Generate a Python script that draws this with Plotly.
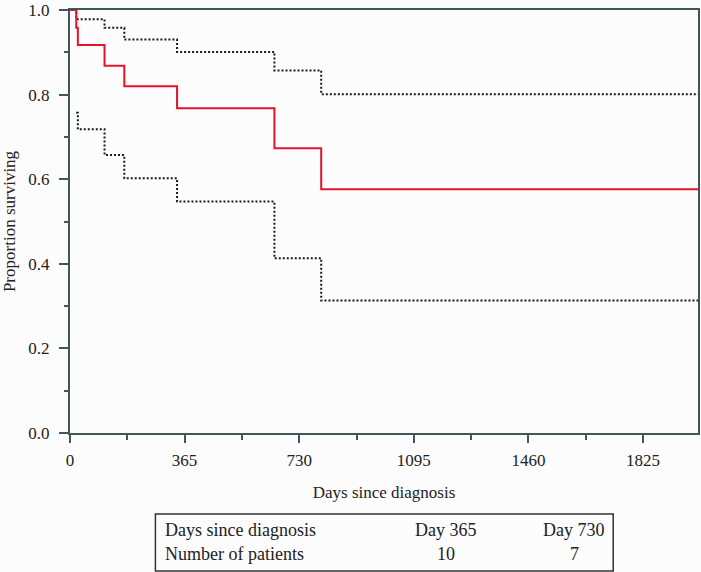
import plotly.graph_objects as go

# Kaplan-Meier estimate (days since diagnosis, proportion surviving)
km_days = [0, 20, 25, 110, 173, 341, 651, 800, 2000]
km_surv = [1.0, 0.958, 0.917, 0.868, 0.820, 0.768, 0.673, 0.576, 0.576]

upper_days = [0, 20, 110, 173, 341, 651, 800, 2000]
upper_surv = [1.0, 0.978, 0.958, 0.930, 0.901, 0.857, 0.801, 0.801]

lower_days = [20, 25, 110, 173, 341, 651, 800, 2000]
lower_surv = [0.757, 0.718, 0.657, 0.602, 0.547, 0.413, 0.313, 0.313]

x_ticks = [0, 365, 730, 1095, 1460, 1825]
y_ticks = [0.0, 0.2, 0.4, 0.6, 0.8, 1.0]

table_header = "Days since diagnosis"
table_row = "Number of patients"
table_days = ["Day 365", "Day 730"]
table_counts = ["10", "7"]

FONT = "Liberation Serif, Times New Roman, serif"
AXC = "#44555a"

fig = go.Figure()
fig.add_trace(go.Scatter(x=upper_days, y=upper_surv, mode="lines", line_shape="hv",
                         line=dict(color="#1a1a1a", width=2, dash="2px,2px"), showlegend=False,
                         hoverinfo="skip"))
fig.add_trace(go.Scatter(x=lower_days, y=lower_surv, mode="lines", line_shape="hv",
                         line=dict(color="#1a1a1a", width=2, dash="2px,2px"), showlegend=False,
                         hoverinfo="skip"))
fig.add_trace(go.Scatter(x=km_days, y=km_surv, mode="lines", line_shape="hv",
                         line=dict(color="#e3132c", width=2), showlegend=False,
                         hoverinfo="skip"))

fig.update_xaxes(range=[0, 2000], tickvals=x_ticks, ticktext=[str(v) for v in x_ticks],
                 ticks="outside", ticklen=8, tickwidth=1.5, tickcolor=AXC,
                 minor=dict(tickvals=[182.5, 547.5, 912.5, 1277.5, 1642.5], ticks="outside",
                            ticklen=5, tickwidth=1.5, tickcolor=AXC),
                 showline=True, linecolor=AXC, linewidth=2, mirror=True,
                 showgrid=False, zeroline=False, automargin=True, ticklabelstandoff=3,
                 tickfont=dict(family=FONT, size=17, color="#222"),
                 title=dict(text="Days since diagnosis", font=dict(family=FONT, size=17, color="#222"),
                            standoff=17))
fig.update_yaxes(range=[0, 1], tickvals=y_ticks, ticktext=[f"{v:.1f}" for v in y_ticks],
                 ticks="outside", ticklen=9, tickwidth=1.5, tickcolor=AXC,
                 minor=dict(tickvals=[0.1, 0.3, 0.5, 0.7, 0.9], ticks="outside",
                            ticklen=4, tickwidth=1.5, tickcolor=AXC),
                 showline=True, linecolor=AXC, linewidth=2, mirror=True,
                 showgrid=False, zeroline=False, ticklabelstandoff=6, automargin=True,
                 tickfont=dict(family=FONT, size=17, color="#222"),
                 title=dict(text="Proportion surviving", font=dict(family=FONT, size=17, color="#222"),
                            standoff=8))

# Table below the plot (paper coordinates)
fig.add_shape(type="rect", xref="paper", yref="paper", x0=0.136, x1=0.865, y0=-0.326, y1=-0.1915,
              line=dict(color="#333", width=1.5))
tfont = dict(family=FONT, size=18, color="#222")
fig.add_annotation(xref="paper", yref="paper", x=0.1488, y=-0.229, text=table_header,
                   showarrow=False, xanchor="left", yanchor="middle", font=tfont)
fig.add_annotation(xref="paper", yref="paper", x=0.1488, y=-0.286, text=table_row,
                   showarrow=False, xanchor="left", yanchor="middle", font=tfont)
for cx, d, n in zip([0.599, 0.803], table_days, table_counts):
    fig.add_annotation(xref="paper", yref="paper", x=cx, y=-0.229, text=d,
                       showarrow=False, xanchor="center", yanchor="middle", font=tfont)
    fig.add_annotation(xref="paper", yref="paper", x=cx, y=-0.286, text=n,
                       showarrow=False, xanchor="center", yanchor="middle", font=tfont)

fig.update_layout(width=701, height=572, margin=dict(l=70, r=3, t=10, b=139, autoexpand=False),
                  paper_bgcolor="#fcfcfc", plot_bgcolor="#fcfcfc",
                  font=dict(family=FONT), hovermode=False)
fig.write_html("out.html", config={"displayModeBar": False},
               post_script="document.body.style.margin='0';")
